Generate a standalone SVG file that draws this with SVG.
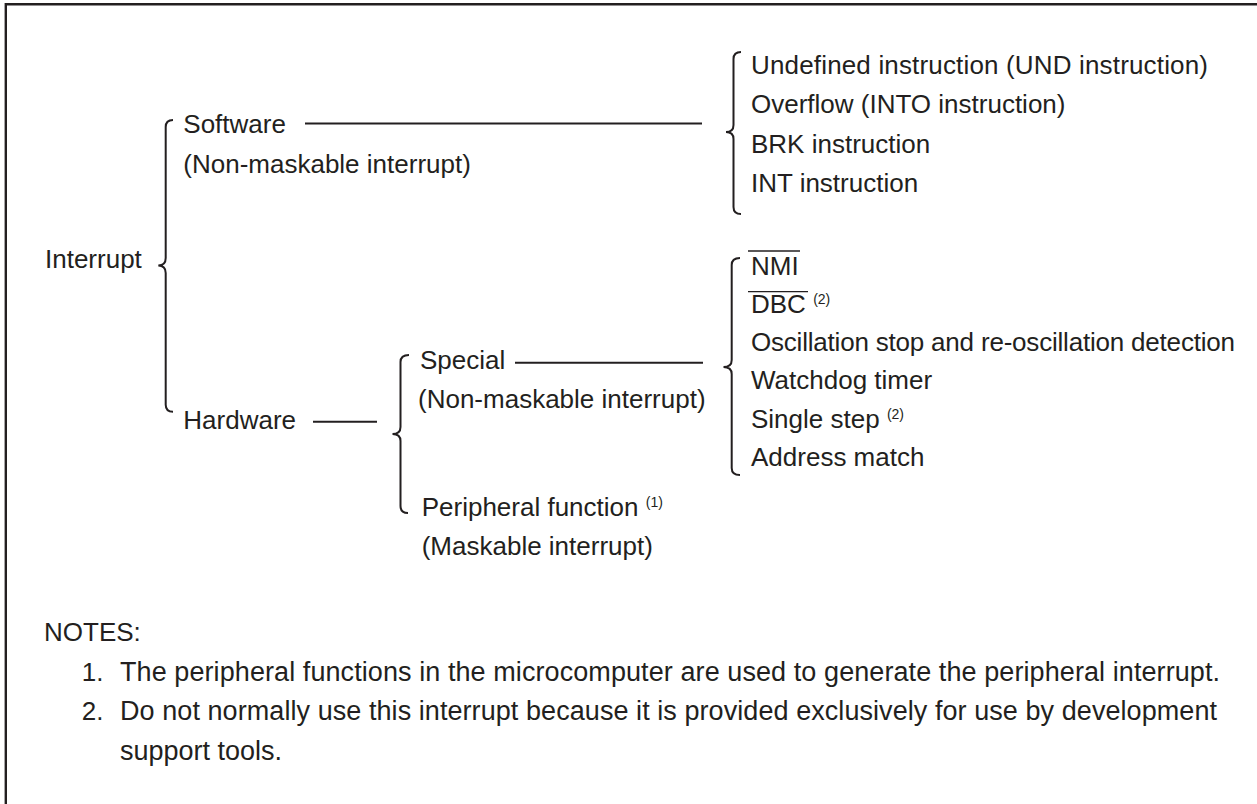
<svg xmlns="http://www.w3.org/2000/svg" width="1257" height="804" viewBox="0 0 1257 804">
<style>
text{font-family:"Liberation Sans",Arial,Helvetica,sans-serif;font-size:26px;fill:#231f20}
.sup{font-size:14px}
.note{font-size:27px}
.brace{fill:none;stroke:#231f20;stroke-width:2}
.line{fill:none;stroke:#231f20;stroke-width:2}
.ovl{stroke:#231f20;stroke-width:1.3}
.border{fill:none;stroke:#231f20;stroke-width:2.4}
</style>
<rect width="1257" height="804" fill="#ffffff"/>
<path class="border" d="M5.8 804 V4.3 H1257"/>
<g id="connectors">
<path class="brace" d="M173 120 Q165.7 120 165.7 127 L165.7 258 Q165.7 265.5 158.3 265.5 Q165.7 265.5 165.7 273 L165.7 404.7 Q165.7 411.7 173 411.7"/>
<path class="brace" d="M409 355 Q400.5 355 400.5 362 L400.5 427 Q400.5 434 392.5 434 Q400.5 434 400.5 441 L400.5 506 Q400.5 513 408 513"/>
<path class="brace" d="M741 52 Q733.5 52 733.5 59 L733.5 125 Q733.5 132 726 132 Q733.5 132 733.5 139 L733.5 207 Q733.5 214 741 214"/>
<path class="brace" d="M740 258 Q731.7 258 731.7 265 L731.7 360 Q731.7 367 723.5 367 Q731.7 367 731.7 374 L731.7 468 Q731.7 475 740 475"/>
<line class="line" x1="305" y1="123.5" x2="702" y2="123.5"/>
<line class="line" x1="515" y1="362.7" x2="703" y2="362.7"/>
<line class="line" x1="313" y1="421.7" x2="377" y2="421.7"/>
</g>
<g id="node-interrupt"><text x="45" y="268">Interrupt</text></g>
<g id="node-software"><text x="183.3" y="133">Software</text><text x="183.3" y="173">(Non-maskable interrupt)</text></g>
<g id="node-hardware"><text x="183.3" y="429">Hardware</text></g>
<g id="node-special"><text x="420" y="369">Special</text><text x="418" y="408">(Non-maskable interrupt)</text></g>
<g id="node-peripheral"><text x="421.7" y="515.7">Peripheral function <tspan class="sup" dy="-9">(1)</tspan></text><text x="421.7" y="555">(Maskable interrupt)</text></g>
<g id="node-software-list">
<text x="751" y="73.5" textLength="457">Undefined instruction (UND instruction)</text>
<text x="751" y="113">Overflow (INTO instruction)</text>
<text x="751" y="152.5">BRK instruction</text>
<text x="751" y="192">INT instruction</text>
</g>
<g id="node-special-list">
<text x="751" y="274.5">NMI</text>
<line class="ovl" x1="748" y1="251" x2="800" y2="251"/>
<text x="751" y="312.8">DBC <tspan class="sup" dy="-9">(2)</tspan></text>
<line class="ovl" x1="748" y1="291.7" x2="808" y2="291.7"/>
<text x="751" y="351.1" textLength="484">Oscillation stop and re-oscillation detection</text>
<text x="751" y="389.4">Watchdog timer</text>
<text x="751" y="427.7">Single step <tspan class="sup" dy="-9">(2)</tspan></text>
<text x="751" y="466">Address match</text>
</g>
<g id="notes">
<text x="44" y="641">NOTES:</text>
<text x="81.7" y="680.5">1.</text>
<text class="note" x="120" y="680.5" textLength="1100">The peripheral functions in the microcomputer are used to generate the peripheral interrupt.</text>
<text x="81.7" y="720">2.</text>
<text class="note" x="120" y="720" textLength="1097">Do not normally use this interrupt because it is provided exclusively for use by development</text>
<text class="note" x="120" y="759.5">support tools.</text>
</g>
</svg>
